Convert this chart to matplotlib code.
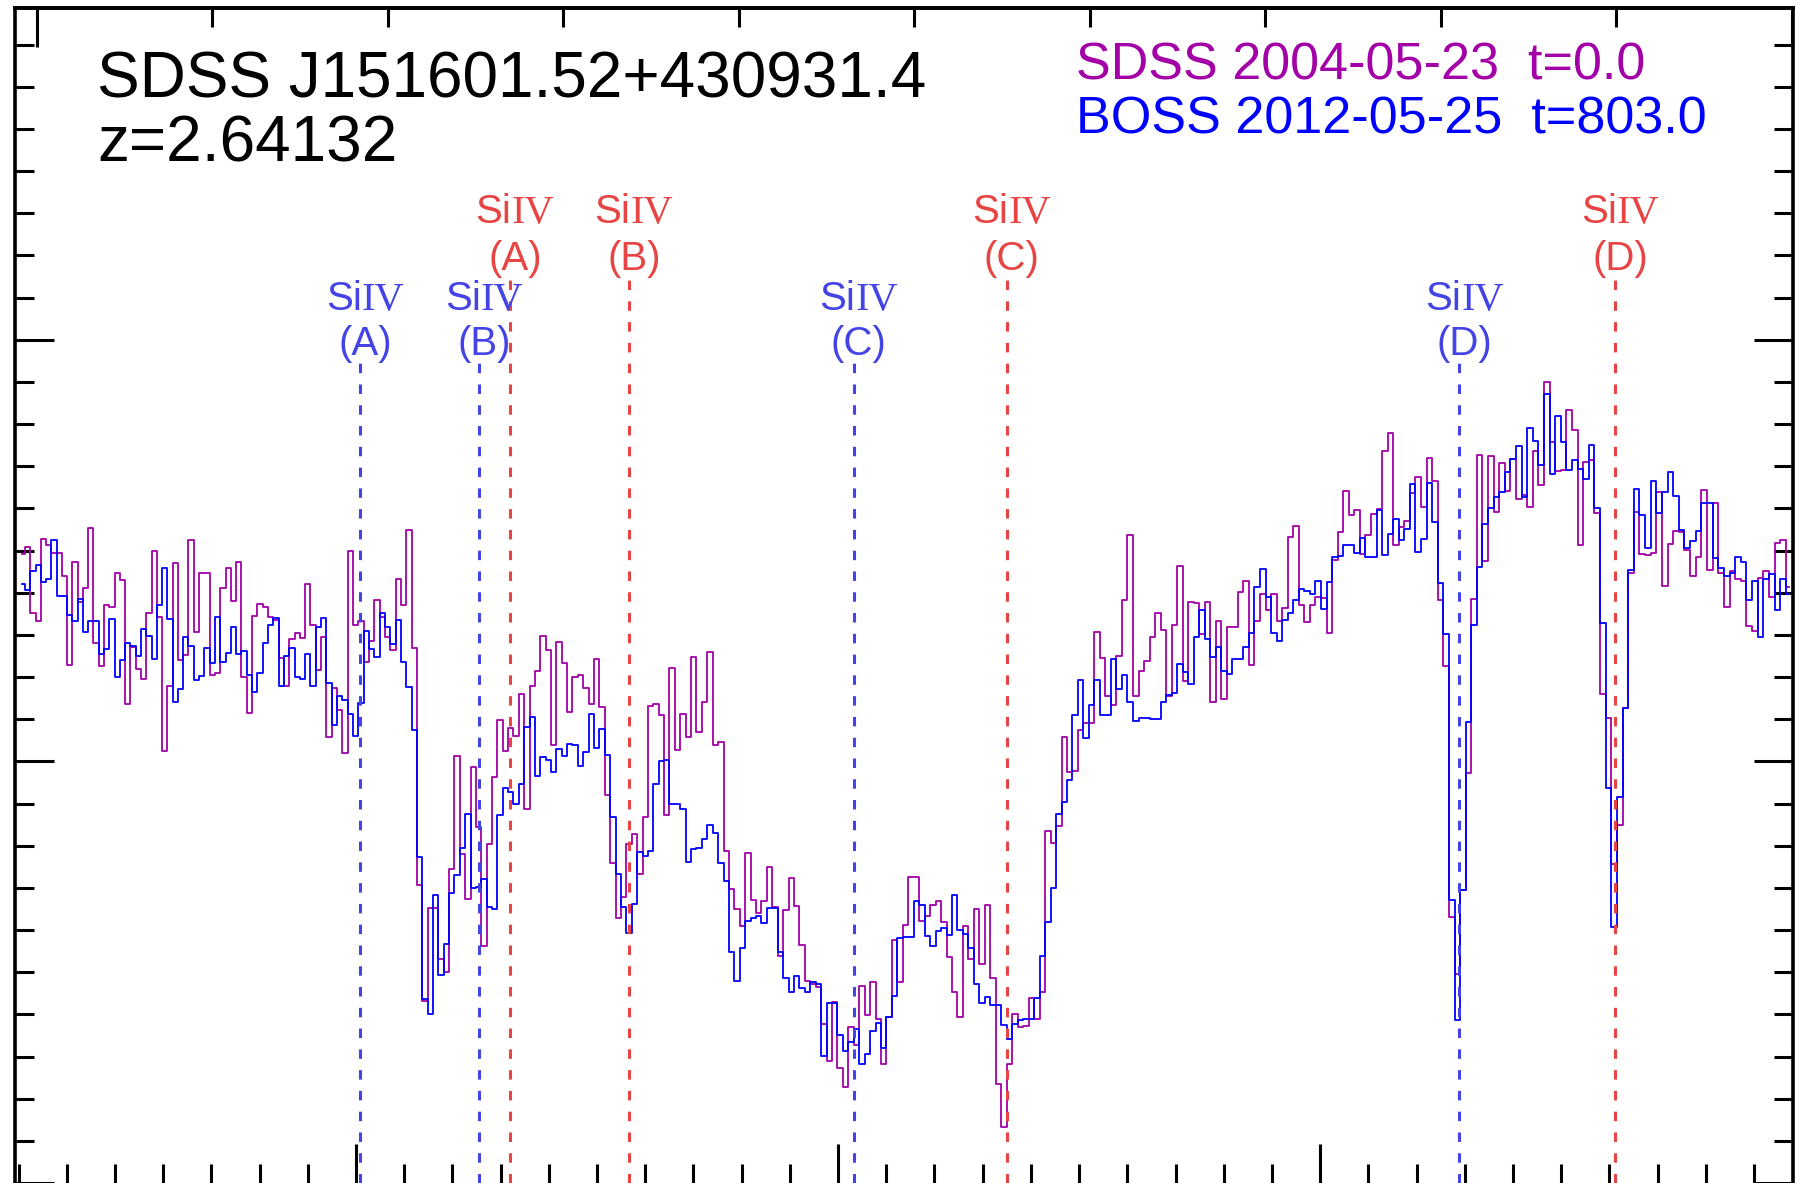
import numpy as np
import matplotlib
matplotlib.use("Agg")
import matplotlib.pyplot as plt
from matplotlib.ticker import MultipleLocator

# quasar and pixel grid (SDSS log-linear pixels)
z_qso = 2.64132
loglam0 = 3.674935
dloglam = 1e-4

# SDSS 2004-05-23 spectrum, flux per pixel
flux_sdss = [
    7.46, 7.54, 6.76, 6.67, 7.64, 7.57, 7.47, 7.47, 7.20, 6.14,
    7.36, 6.89, 7.06, 7.77, 6.41, 6.13, 6.86, 6.83, 7.23, 7.15,
    5.68, 6.36, 6.10, 5.98, 6.76, 7.49, 6.71, 5.12, 5.90, 7.35,
    6.20, 6.26, 7.63, 6.53, 7.24, 7.24, 6.03, 6.05, 7.06, 7.29,
    6.90, 7.36, 6.00, 5.57, 6.73, 6.87, 6.83, 6.71, 6.68, 6.23,
    5.90, 6.45, 6.52, 6.46, 7.10, 6.62, 6.08, 6.47, 5.29, 5.87,
    5.61, 5.10, 7.49, 6.62, 6.67, 6.18, 6.43, 6.92, 6.71, 6.48,
    6.32, 7.16, 6.85, 7.74, 6.34, 3.54, 2.16, 3.26, 3.26, 2.66,
    2.50, 3.72, 5.06,
    3.90, 3.37, 4.93, 4.22, 2.81, 4.02, 4.82, 5.49, 5.12, 5.40,
    5.30, 5.80, 4.44, 5.90, 6.07, 6.49, 6.32, 5.20, 6.42, 6.17,
    5.59, 6.00, 6.02, 5.87, 5.68, 6.21, 5.64, 4.60, 3.80, 3.14,
    3.39, 4.02, 4.14, 3.67, 4.34, 5.66, 5.68, 5.55, 4.37, 6.11,
    5.13, 5.56, 5.29, 6.24, 5.35, 5.71, 6.30, 5.19, 5.23, 3.94,
    3.49, 3.25, 3.05, 3.91, 3.36, 3.20, 3.34, 3.75, 3.27, 2.69,
    3.24, 3.62, 3.29, 2.82, 2.40, 2.36, 2.33, 1.89, 1.45, 2.15,
    1.36, 1.14, 1.85, 1.64, 2.34, 1.99, 2.38, 1.94, 1.41, 1.97,
    2.88, 2.38,
    3.06, 3.63, 3.63, 3.11, 3.17, 3.30, 3.34, 3.09, 2.68, 2.27,
    1.97, 3.05, 2.66, 3.25, 2.60, 3.30, 2.43, 1.18, 0.66, 1.41,
    2.01, 1.85, 1.86, 2.19, 1.94, 2.26, 4.18, 4.03, 4.23, 5.29,
    4.88, 4.89, 5.37, 5.46, 5.45, 6.54, 6.23, 5.78, 5.67, 6.25,
    6.92, 7.69, 5.78, 6.07, 6.19, 6.47, 6.76, 6.56, 5.78, 6.62,
    7.32, 5.95, 6.89, 6.88, 6.51, 6.89, 5.70, 6.67, 5.74, 6.59,
    6.59, 7.01, 7.14, 6.14, 6.67, 6.98, 6.80, 6.99, 6.67, 6.82,
    7.66, 7.79, 6.85, 6.65, 6.86, 6.95, 6.94, 6.52, 7.39, 7.72, 8.21,
    7.92, 7.98, 7.46, 7.69, 7.93, 7.99, 8.68, 8.89, 7.57, 7.78,
    7.85, 8.18, 8.37, 8.02, 8.60, 8.33, 6.91, 6.13, 3.15, 2.48,
    3.48, 4.86, 6.93, 8.63, 7.38, 8.62, 7.96, 8.54, 8.21, 8.59,
    8.11, 8.16, 8.02, 8.68, 8.28, 9.50, 8.79, 8.44, 8.45, 9.17,
    8.93, 7.57, 8.55, 8.57, 7.95, 5.80, 5.52, 3.78, 4.24, 5.63,
    7.24, 7.96, 7.46, 7.45, 7.47, 8.20, 7.08, 7.58, 7.73, 7.72,
    7.51, 7.20, 7.42, 8.22, 7.27, 8.07, 7.24, 6.83, 7.26, 7.16,
    7.14, 6.61, 6.55, 7.17, 7.26, 6.95, 7.59, 7.62, 7.07,
]

# BOSS 2012-05-25 spectrum on the same pixels
flux_boss = [
    7.10, 7.03, 7.26, 7.33, 7.13, 7.16, 7.63, 6.96, 6.96, 6.74,
    6.66, 6.93, 6.53, 6.66, 6.66, 6.27, 6.33, 6.69, 6.00, 6.20,
    6.41, 6.37, 6.25, 6.57, 6.49, 6.21, 6.85, 7.29, 6.69, 5.71,
    5.86, 6.47, 6.37, 5.97, 6.01, 6.34, 6.17, 6.71, 6.18, 6.29,
    6.59, 6.27, 6.31, 6.02, 5.82, 6.05, 6.40, 6.62, 6.70, 5.90,
    6.25, 6.35, 6.00, 5.98, 6.27, 5.89, 6.59, 6.70, 5.93, 5.43,
    5.78, 5.73, 5.56, 5.30, 5.69, 6.55, 6.33, 6.24, 6.76, 6.59,
    6.39, 6.68, 6.18, 5.88, 5.37, 3.87, 2.18, 2.00, 3.41, 2.47,
    2.84, 3.44, 3.65,
    3.97, 4.38, 3.50, 3.51, 3.61, 3.27, 3.25, 4.36, 4.69, 4.64,
    4.49, 4.73, 5.41, 5.53, 4.83, 5.05, 5.02, 4.87, 5.15, 5.06,
    5.21, 5.20, 4.95, 5.11, 5.56, 5.16, 5.38, 5.08, 4.34, 3.66,
    3.27, 2.97, 3.31, 3.93, 3.88, 3.94, 4.73, 5.00, 5.02, 4.49,
    4.50, 4.44, 3.81, 3.96, 3.97, 4.08, 4.24, 4.15, 3.80, 3.58,
    2.74, 2.40, 2.79, 3.11, 3.14, 3.17, 3.08, 3.26, 3.26, 2.74,
    2.43, 2.26, 2.45, 2.31, 2.26, 2.38, 2.36, 1.51, 2.13, 2.13,
    1.75, 1.56, 1.67, 1.83, 1.41, 1.53, 1.80, 1.90, 1.60, 1.97,
    2.22, 2.90,
    2.92, 2.92, 3.34, 3.30, 2.93, 2.81, 2.99, 3.03, 2.94, 3.41,
    3.00, 2.95, 2.79, 2.36, 2.13, 2.21, 2.11, 2.11, 1.87, 1.71,
    1.89, 1.93, 1.95, 1.95, 2.19, 2.69, 3.10, 3.50, 4.38, 4.52,
    4.78, 5.55, 5.96, 5.28, 5.67, 5.96, 5.55, 5.55, 6.22, 5.86,
    6.03, 5.71, 5.48, 5.51, 5.51, 5.50, 5.50, 5.70, 5.79, 5.81,
    6.16, 6.06, 5.92, 6.48, 6.79, 6.45, 6.24, 6.36, 6.07, 6.04,
    6.22, 6.22, 6.36, 6.52, 7.07, 7.28, 6.95, 6.52, 6.43, 6.68,
    6.76, 6.92, 7.05, 7.02, 6.99, 7.14, 6.81, 7.13, 7.42, 7.44, 7.57,
    7.57, 7.47, 7.65, 7.42, 7.42, 7.98, 7.45, 7.70, 7.88, 7.62,
    7.76, 8.29, 7.48, 7.64, 8.30, 7.84, 7.11, 6.51, 3.36, 1.93,
    3.47, 5.47, 6.62, 7.31, 7.82, 8.00, 8.13, 8.20, 8.43, 8.59,
    8.74, 8.14, 8.95, 8.80, 8.51, 9.36, 8.41, 9.10, 8.79, 8.45,
    8.58, 8.47, 8.35, 8.75, 8.01, 6.64, 4.69, 3.04, 4.58, 5.63,
    7.27, 8.23, 7.92, 7.53, 8.32, 7.95, 8.20, 8.43, 8.15, 7.74,
    7.53, 7.61, 7.73, 8.06, 8.06, 7.41, 7.29, 7.20, 7.23, 7.42,
    7.36, 6.91, 7.14, 6.47, 7.16, 7.22, 6.79, 7.16, 6.98,
]

# SiIV 1393 (blue) and 1402 (red) positions of the absorbers, observed frame
siiv_1393 = [4800.8, 4825.5, 4903.2, 5028.9]
siiv_1402 = [4831.9, 4856.6, 4935.0, 5061.2]
sys_names = ["(A)", "(B)", "(C)", "(D)"]

wave = 10 ** (loglam0 + dloglam * np.arange(len(flux_sdss)))

W, H = 1796, 1183
fig = plt.figure(figsize=(W / 100, H / 100), dpi=100)
ax = fig.add_axes([15 / W, 0, 1778 / W, 1175 / H])

c_sdss = "#A300A8"
c_boss = "#0000FF"
c_red = "#E84444"
c_blue = "#4444E6"

ax.plot(wave, flux_sdss, drawstyle="steps-mid", color=c_sdss, lw=1.3)
ax.plot(wave, flux_boss, drawstyle="steps-mid", color=c_boss, lw=1.3)

ax.set_xlim(4729.25, 5098.1)
ax.set_ylim(0, 13.935)

dash = (0, (3.1, 3.7))
for xb, xr, nm in zip(siiv_1393, siiv_1402, sys_names):
    ax.vlines(xb, 0, 9.73, colors=c_blue, linestyles=dash, lw=2.2, zorder=3)
    ax.vlines(xr, 0, 10.71, colors=c_red, linestyles=dash, lw=2.2, zorder=3)
    for xx, col, y1, y2 in ((xb, c_blue, 10.353, 9.82), (xr, c_red, 11.385, 10.83)):
        ax.annotate("Si", (xx, y1), xytext=(1.2, 0), textcoords="offset points",
                    ha="right", va="baseline", color=col, fontsize=29,
                    family="Liberation Sans")
        ax.annotate("IV", (xx, y1), xytext=(1.2, 0), textcoords="offset points",
                    ha="left", va="baseline", color=col, fontsize=29,
                    family="Liberation Serif")
        ax.annotate(nm, (xx, y2), xytext=(3.6, 0), textcoords="offset points",
                    ha="center", va="baseline", color=col, fontsize=29,
                    family="Liberation Sans")

# ticks, IDL style: inward on all sides, no labels
ax.xaxis.set_major_locator(MultipleLocator(100))
ax.xaxis.set_minor_locator(MultipleLocator(10))
ax.yaxis.set_major_locator(MultipleLocator(5))
ax.yaxis.set_minor_locator(MultipleLocator(0.5))
ax.tick_params(which="both", direction="in", top=False, right=True,
               labelbottom=False, labelleft=False, width=2.2)
ax.tick_params(which="major", length=28)
ax.tick_params(which="minor", length=13.5)
for s in ax.spines.values():
    s.set_linewidth(2.6)
ax.spines["bottom"].set_visible(False)

top = ax.secondary_xaxis("top", functions=(lambda w: w / (1 + z_qso),
                                           lambda r: r * (1 + z_qso)))
top.xaxis.set_major_locator(MultipleLocator(100))
top.xaxis.set_minor_locator(MultipleLocator(10))
top.tick_params(which="both", direction="in", labeltop=False, width=2.2)
top.tick_params(which="major", length=28)
top.tick_params(which="minor", length=13.5)
top.spines["top"].set_linewidth(2.6)

fig.text(97 / W, 1 - 97 / H, "SDSS J151601.52+430931.4", fontsize=46,
         family="Liberation Sans", va="baseline")
fig.text(97 / W, 1 - 162 / H, "z=2.64132", fontsize=46,
         family="Liberation Sans", va="baseline")
fig.text(1076 / W, 1 - 80 / H, "SDSS 2004-05-23  t=0.0", fontsize=37.5,
         family="Liberation Sans", va="baseline", color=c_sdss)
fig.text(1076 / W, 1 - 133 / H, "BOSS 2012-05-25  t=803.0", fontsize=37.5,
         family="Liberation Sans", va="baseline", color=c_boss)

fig.savefig("out.png", dpi=100)
